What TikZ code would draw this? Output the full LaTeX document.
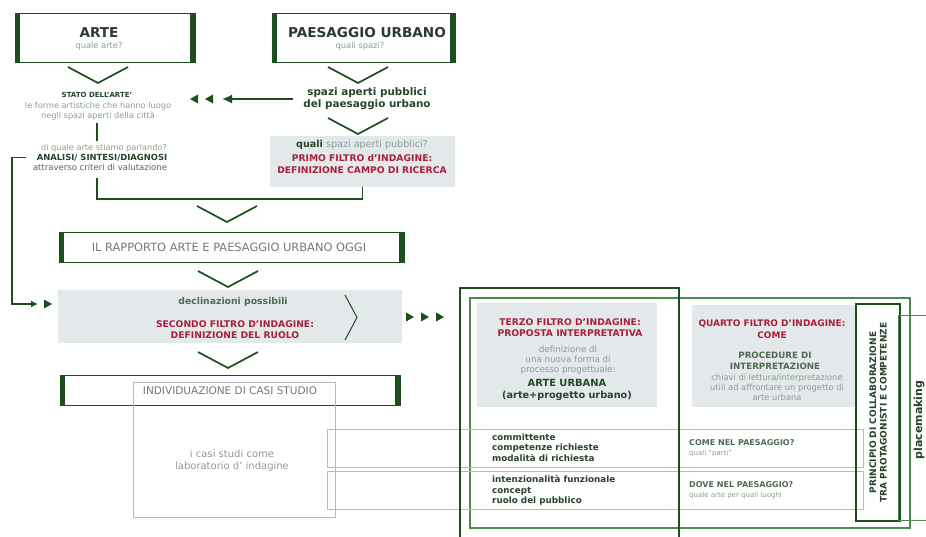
\documentclass[tikz,border=0pt]{standalone}
\usepackage{fontspec}
\setmainfont{DejaVu Sans}
\usetikzlibrary{arrows.meta}
\definecolor{DarkGreen}{HTML}{1D4E21}
\definecolor{MidGreen}{HTML}{4A8A4E}
\definecolor{PaleGreen}{HTML}{A9C6AA}
\definecolor{Ink}{HTML}{26432B}
\definecolor{SoftInk}{HTML}{4E6A52}
\definecolor{Title}{HTML}{2B3A2E}
\definecolor{Grey}{HTML}{8C9C92}
\definecolor{Slate}{HTML}{6E7B70}
\definecolor{Wine}{HTML}{A8203A}
\definecolor{Mist}{HTML}{E3E8EB}
\definecolor{Steel}{HTML}{AEBBC4}

\begin{document}
\begin{tikzpicture}[x=1pt,y=-1pt,
    box/.style={draw=DarkGreen,line width=0.9pt,inner sep=0pt},
    bar/.style={DarkGreen,line width=5pt},
    chev/.style={DarkGreen,line width=1.7pt},
    link/.style={DarkGreen,line width=1.7pt},
    shade/.style={fill=Mist,inner sep=0pt},
    row/.style={draw=PaleGreen,line width=0.7pt,inner sep=0pt},
    txt/.style={align=center,inner sep=0pt},
    ttl/.style={txt,font=\fontsize{13.6}{15}\selectfont\bfseries,text=Title},
    sub/.style={txt,font=\fontsize{8.3}{10}\selectfont,text=Grey},
    filtro/.style={txt,font=\fontsize{9.2}{11}\selectfont\bfseries,text=Wine},
    note/.style={txt,font=\fontsize{8.2}{9.8}\selectfont,text=Grey},
    head/.style={txt,font=\fontsize{7}{9.8}\selectfont\bfseries,text=Ink},
    caps/.style={txt,font=\fontsize{11.4}{13}\selectfont,text=Slate},
    list/.style={align=left,inner sep=0pt,anchor=west,
      font=\fontsize{8.8}{10.5}\selectfont\bfseries,text=Ink}]
\useasboundingbox (0,0) rectangle (926,537);

% boxes with thick sides
\node[box,minimum width=180pt,minimum height=49pt] (arte) at (105,37.5) {};
\node[box,minimum width=183pt,minimum height=49pt] (paes) at (363.5,37.5) {};
\node[box,minimum width=345pt,minimum height=30pt] (rapp) at (231.5,247) {};
\node[box,minimum width=340pt,minimum height=30pt] (indiv) at (230,390.5) {};
\foreach \b in {arte,paes,rapp,indiv}{
  \draw[bar] ([xshift=2.5pt]\b.north west) -- ([xshift=2.5pt]\b.south west);
  \draw[bar] ([xshift=-2.5pt]\b.north east) -- ([xshift=-2.5pt]\b.south east);
}
\node[ttl] (artet) at (99,32.5) {ARTE};
\node[sub] (artes) at (99,46.5) {quale arte?};
\node[ttl] (paest) at (367,32.5) {PAESAGGIO URBANO};
\node[sub] (paess) at (360,46.5) {quali spazi?};
\node[caps] (rappt) at (229,247) {IL RAPPORTO ARTE E PAESAGGIO URBANO OGGI};

% chevrons
\foreach \cx/\cy in {98/67,358/67,358/118,227/206,228/271,228/352}
  \draw[chev] (\cx-30,\cy) -- (\cx,\cy+16) -- (\cx+30,\cy);

% left column
\node[head] (statoh) at (97,95) {STATO DELL'ARTE'};
\node[note] (stato) at (98,111) {le forme artistiche che hanno luogo\\negli spazi aperti della città};
\node[note] (domanda) at (104,148) {di quale arte stiamo parlando?};
\node[head,font=\fontsize{8.4}{10}\selectfont\bfseries] (analisi) at (102,157.5) {ANALISI/ SINTESI/DIAGNOSI};
\node[note,font=\fontsize{8.5}{10}\selectfont,text=SoftInk] (criteri) at (100,167) {attraverso criteri di valutazione};
\draw[link] (97,123) -- (97,141);

% right column
\node[txt,font=\fontsize{10.4}{12}\selectfont\bfseries,text=Ink] (spazi) at (367,99)
  {spazi aperti pubblici\\del paesaggio urbano};
\node[shade,minimum width=185pt,minimum height=51pt] (primo) at (362.5,161.5) {};
\node[sub,font=\fontsize{9.6}{11}\selectfont] (quali) at (362,145) {\textbf{\textcolor{Ink}{quali}} spazi aperti pubblici?};
\node[filtro,font=\fontsize{9.2}{12.5}\selectfont\bfseries] (primot) at (362,164) {PRIMO FILTRO d'INDAGINE:\\DEFINIZIONE CAMPO DI RICERCA};

\coordinate (lt) at (222,99);
\draw[link,-{Latex[length=10pt,width=9pt]}] ([xshift=-10pt]spazi.west) -- (lt);
\foreach \x in {194,209}
  \fill[DarkGreen] (\x+4,94.5) -- (\x-4,99) -- (\x+4,103.5) -- cycle;

\coordinate (brk) at (228,199);
\draw[link] (97,178) |- (brk) -| (primo.south);

% feedback
\coordinate (fbx) at (12,304);
\coordinate (fb) at (38,304);
\draw[link,-{Latex[length=7pt,width=7pt]}] ([xshift=-11pt]analisi.west) -- (analisi.west -| fbx) -- (fbx) -- (fb);
\fill[DarkGreen] (44,299.5) -- (52,304) -- (44,308.5) -- cycle;

% second filter
\node[shade,minimum width=344pt,minimum height=53pt] (decl) at (230,316.5) {};
\node[txt,font=\fontsize{9.3}{10}\selectfont\bfseries,text=SoftInk] (declt) at (233,302) {declinazioni possibili};
\node[filtro] (secondo) at (235,330) {SECONDO FILTRO D'INDAGINE:\\DEFINIZIONE DEL RUOLO};
\draw[DarkGreen,line width=1pt] (345,295) -- (357,317.5) -- (345,340);
\foreach \x in {410,425,440}
  \fill[DarkGreen] (\x-4,312.5) -- (\x+4,317) -- (\x-4,321.5) -- cycle;

% case studies
\node[caps,font=\fontsize{10.5}{12}\selectfont] (indivt) at (230,391) {INDIVIDUAZIONE DI CASI STUDIO};
\node[draw=Steel,line width=0.7pt,minimum width=202pt,minimum height=135pt] (casi) at (234,449.5) {};
\node[sub,font=\fontsize{10}{12}\selectfont] (casit) at (232,461) {i casi studi come\\laboratorio d' indagine};

% right block
\node[draw=MidGreen,line width=1.3pt,minimum width=440pt,minimum height=230pt] (outer) at (690,413) {};
\node[row,minimum width=536pt,minimum height=38pt] (row1) at (595,448) {};
\node[row,minimum width=536pt,minimum height=38pt] (row2) at (595,490) {};
\node[shade,minimum width=180pt,minimum height=104pt] (terzo) at (567,355) {};
\node[shade,minimum width=163pt,minimum height=102pt] (quarto) at (773.5,356) {};
\draw[DarkGreen,line width=2.4pt] (460,537) -- (460,288) -- (679,288) -- (679,537);

\node[filtro] (terzot) at (570,328) {TERZO FILTRO D'INDAGINE:\\PROPOSTA INTERPRETATIVA};
\node[note,font=\fontsize{8.7}{10}\selectfont] (defin) at (568,360) {definizione di\\una nuova forma di\\processo progettuale:};
\node[txt,font=\fontsize{9.9}{12}\selectfont\bfseries,text=DarkGreen] (urbana) at (567,383) {ARTE URBANA};
\node[txt,font=\fontsize{9.7}{12}\selectfont\bfseries,text=Ink] (progetto) at (567,396) {(arte+progetto urbano)};

\node[filtro,font=\fontsize{9}{12}\selectfont\bfseries] (quartot) at (772,329) {QUARTO FILTRO D'INDAGINE:\\COME};
\node[txt,font=\fontsize{8.7}{11}\selectfont\bfseries,text=SoftInk] (proc) at (775,360.5) {PROCEDURE DI\\INTERPRETAZIONE};
\node[note,font=\fontsize{8.3}{10}\selectfont] (chiavi) at (777,387) {chiavi di lettura/interpretazione\\utili ad affrontare un progetto di\\arte urbana};

\node[list] (comm) at (492,447.5) {committente\\competenze richieste\\modalità di richiesta};
\node[list] (inten) at (492,490.5) {intenzionalità funzionale\\concept\\ruolo del pubblico};
\node[list,font=\fontsize{8}{10}\selectfont\bfseries,text=SoftInk] (come) at (689,443) {COME NEL PAESAGGIO?};
\node[list,font=\fontsize{7}{8}\selectfont,text=Grey] (comes) at (689,453.5) {quali “parti”};
\node[list,font=\fontsize{8}{10}\selectfont\bfseries,text=SoftInk] (dove) at (689,485) {DOVE NEL PAESAGGIO?};
\node[list,font=\fontsize{7}{8}\selectfont,text=Grey] (doves) at (689,495.5) {quale arte per quali luoghi};

\node[draw=DarkGreen,line width=1.4pt,rotate=90,minimum width=217pt,minimum height=44pt,
  txt,font=\fontsize{9}{10.5}\selectfont\bfseries,text=Ink] (princ) at (878,412.5)
  {PRINCIPIO DI COLLABORAZIONE\\TRA PROTAGONISTI E COMPETENZE};
\draw[MidGreen,line width=0.8pt] (930,315) -- (898,315) -- (898,520) -- (930,520);
\node[txt,rotate=90,font=\fontsize{11}{12}\selectfont\bfseries,text=Ink] (place) at (919,420) {placemaking};
\end{tikzpicture}
\end{document}
